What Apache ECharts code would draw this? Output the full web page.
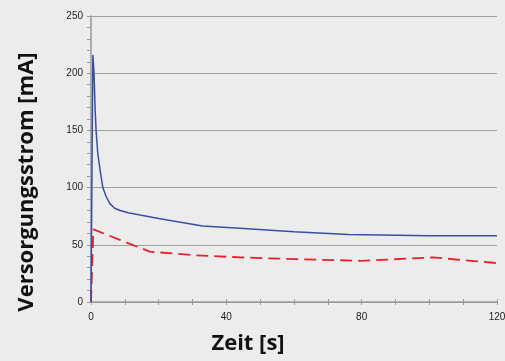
<!DOCTYPE html>
<html>
<head>
<meta charset="utf-8">
<script src="https://cdn.jsdelivr.net/npm/echarts@6/dist/echarts.min.js"></script>
<style>
html,body{margin:0;padding:0;background:#ececec;}
#c{width:505px;height:361px;}
</style>
</head>
<body>
<div id="c"></div>
<script>
// Data: [time s, current mA]
const blueSeries = [[0,0],[0.55,216],[0.9,200],[1.2,170],[1.5,150],[2,130],[2.7,115],[3.5,100],[4.5,92],[5.6,86],[7,82],[8.6,80],[11,78],[14.5,76],[20,73],[26,70],[33,66.5],[44,64.5],[60,61.5],[76,59],[100,58],[120,58]];
const redSeries = [[0,0],[0.7,63.5],[17.4,44],[30,41],[44,39],[60,37.5],[80,36],[101,39],[120,34]];
const xTitle = 'Zeit [s]';
const yTitle = 'Versorgungsstrom [mA]';
const xMin = 0, xMax = 120, xInterval = 40;
const yMin = 0, yMax = 250, yInterval = 50;

const chart = echarts.init(document.getElementById('c'), null, {renderer:'canvas'});
const axisGray = '#9a9a9a';
const labelFont = {color:'#222', fontSize:10, fontFamily:'Liberation Sans, Arial, sans-serif'};
chart.setOption({
  backgroundColor:'#ececec',
  animation:false,
  grid:{left:91, right:8, top:16, bottom:59, containLabel:false, outerBoundsMode:'none'},
  xAxis:[{
    type:'value', min:xMin, max:xMax, interval:xInterval,
    axisLine:{show:true, lineStyle:{color:axisGray, width:1.5}},
    axisTick:{show:true, length:3, lineStyle:{color:axisGray, width:1}},
    minorTick:{show:true, splitNumber:4, length:3, lineStyle:{color:axisGray, width:1}},
    axisLabel:Object.assign({margin:10}, labelFont),
    splitLine:{show:false}
  },{
    type:'value', min:xMin, max:xMax, interval:xInterval, position:'bottom',
    axisLine:{show:false},
    axisTick:{show:true, inside:true, length:3, lineStyle:{color:axisGray, width:1}},
    minorTick:{show:true, splitNumber:4, length:3, lineStyle:{color:axisGray, width:1}},
    axisLabel:{show:false},
    splitLine:{show:false}
  }],
  yAxis:{
    type:'value', min:yMin, max:yMax, interval:yInterval,
    axisLine:{show:true, lineStyle:{color:axisGray, width:1.5}},
    axisTick:{show:true, length:4, lineStyle:{color:axisGray, width:1}},
    minorTick:{show:true, splitNumber:5, length:4, lineStyle:{color:axisGray, width:1}},
    axisLabel:Object.assign({margin:8}, labelFont),
    splitLine:{show:true, lineStyle:{color:'#a0a0a0', width:1.2}}
  },
  graphic:[
    {type:'text', x:248, y:344, style:{text:xTitle, fontSize:22, fontWeight:'bold', fontFamily:'Open Sans, sans-serif', fill:'#111', align:'center', verticalAlign:'middle'}},
    {type:'text', x:27, y:182, rotation:Math.PI/2, style:{text:yTitle, fontSize:22, fontWeight:'bold', fontFamily:'Open Sans, sans-serif', fill:'#111', align:'center', verticalAlign:'middle'}}
  ],
  series:[
    {type:'line', data:blueSeries, xAxisIndex:0, showSymbol:false, smooth:false,
     lineStyle:{color:'#3b4ea6', width:1.5}, z:3},
    {type:'line', data:redSeries, xAxisIndex:0, showSymbol:false,
     lineStyle:{color:'#e8202a', width:1.8, type:[12,6]}, z:2}
  ]
});
</script>
</body>
</html>
